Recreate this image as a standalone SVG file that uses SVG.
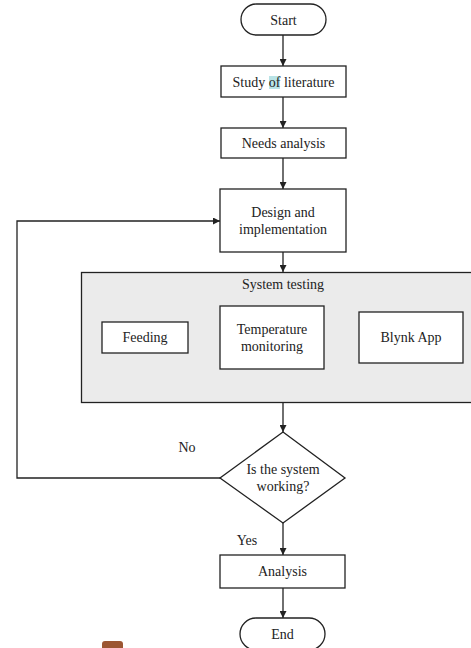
<svg xmlns="http://www.w3.org/2000/svg" width="471" height="648" viewBox="0 0 471 648">
<defs>
<style>
.n{fill:#fff;stroke:#222;stroke-width:1.3}
.t{font-family:"Liberation Serif","Times New Roman",serif;font-size:14px;fill:#222;text-anchor:middle}
.c{fill:none;stroke:#222;stroke-width:1.3}
</style>
<marker id="a" viewBox="0 0 10 10" refX="10" refY="5" markerWidth="7" markerHeight="7" markerUnits="userSpaceOnUse" orient="auto">
<path d="M0,0 L10,5 L0,10 z" fill="#222"/>
</marker>
</defs>
<rect width="471" height="648" fill="#fff"/>
<g id="connectors">
<line class="c" x1="283" y1="35" x2="283" y2="66" marker-end="url(#a)"/>
<line class="c" x1="283" y1="97" x2="283" y2="128" marker-end="url(#a)"/>
<line class="c" x1="283" y1="158" x2="283" y2="189" marker-end="url(#a)"/>
<line class="c" x1="283" y1="252" x2="283" y2="272" marker-end="url(#a)"/>
<line class="c" x1="283" y1="403" x2="283" y2="432" marker-end="url(#a)"/>
<polyline class="c" points="220,478 17,478 17,221 220,221" marker-end="url(#a)"/>
<line class="c" x1="283" y1="523" x2="283" y2="555" marker-end="url(#a)"/>
<line class="c" x1="283" y1="588" x2="283" y2="618" marker-end="url(#a)"/>
<text class="t" x="187" y="452">No</text>
<text class="t" x="247" y="545">Yes</text>
</g>
<g id="start">
<rect class="n" x="241" y="4" width="85" height="31" rx="15.5"/>
<text class="t" x="283.5" y="24.5">Start</text>
</g>
<g id="study">
<rect class="n" x="221" y="66" width="125" height="31"/>
<rect x="269" y="76" width="11" height="13" fill="#b9e3e6"/>
<text class="t" x="283.5" y="86.5">Study of literature</text>
</g>
<g id="needs">
<rect class="n" x="221" y="128" width="125" height="30"/>
<text class="t" x="283.5" y="148">Needs analysis</text>
</g>
<g id="design">
<rect class="n" x="220" y="189" width="126" height="63"/>
<text class="t" x="283" y="217">Design and</text>
<text class="t" x="283" y="234">implementation</text>
</g>
<g id="system-testing">
<rect x="81.5" y="272.5" width="393" height="130" fill="#ebebeb" stroke="#222" stroke-width="1.3"/>
<text class="t" x="283" y="289">System testing</text>
</g>
<g id="feeding">
<rect class="n" x="102" y="322" width="86" height="31"/>
<text class="t" x="145" y="342">Feeding</text>
</g>
<g id="temperature">
<rect class="n" x="220" y="306" width="104" height="63"/>
<text class="t" x="272" y="334">Temperature</text>
<text class="t" x="272" y="351">monitoring</text>
</g>
<g id="blynk">
<rect class="n" x="359" y="312" width="104" height="51"/>
<text class="t" x="411" y="342">Blynk App</text>
</g>
<g id="decision">
<polygon class="n" points="283,432 345,478 283,523 220,478"/>
<text class="t" x="283" y="474">Is the system</text>
<text class="t" x="283" y="491">working?</text>
</g>
<g id="analysis">
<rect class="n" x="220" y="555" width="125" height="33"/>
<text class="t" x="282.5" y="576">Analysis</text>
</g>
<g id="end">
<rect class="n" x="240" y="618" width="85" height="32" rx="16"/>
<text class="t" x="282.5" y="639">End</text>
</g>
<rect x="102" y="641" width="21" height="12" rx="3" fill="#9c5632"/>
</svg>
